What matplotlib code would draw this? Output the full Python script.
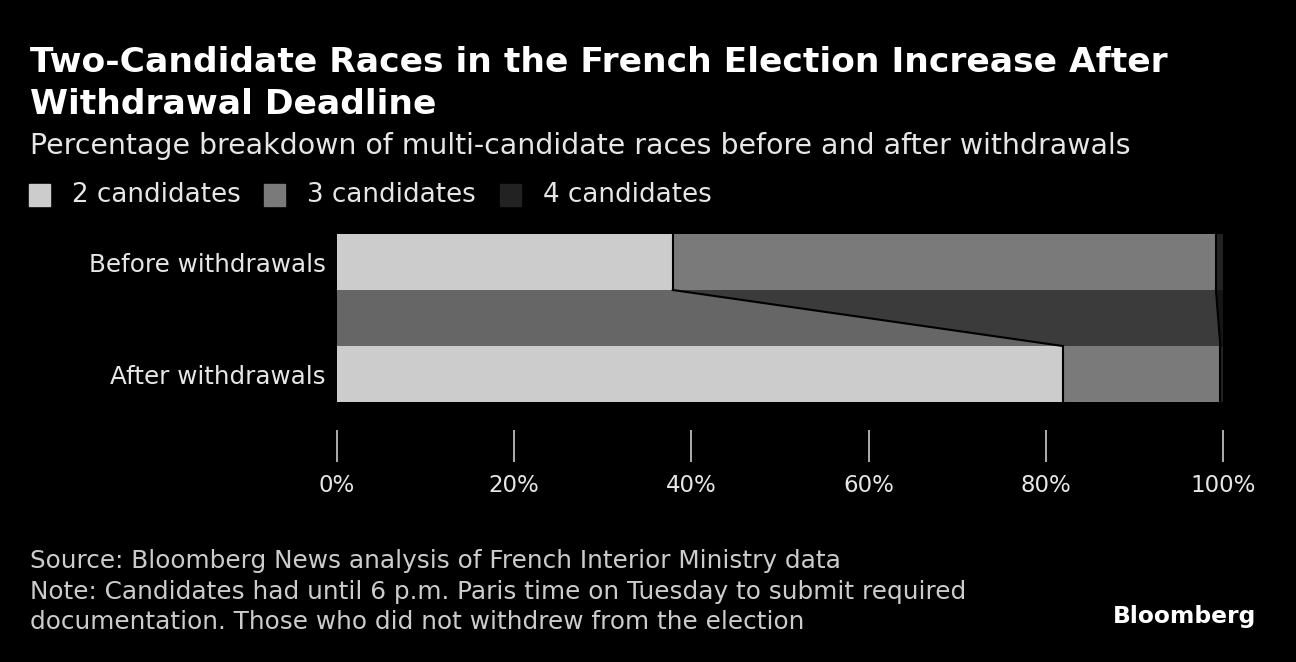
import matplotlib
matplotlib.use("Agg")
import matplotlib.pyplot as plt
import numpy as np

# share of multi-candidate races (%)
categories = ["Before withdrawals", "After withdrawals"]
two_cand = [37.9, 81.9]
three_cand = [61.3, 17.8]
four_cand = [0.8, 0.3]
series_labels = ["2 candidates", "3 candidates", "4 candidates"]
tick_vals = [0, 20, 40, 60, 80, 100]

BG = "#000000"
COLORS = ["#cccccc", "#7a7a7a", "#222222"]
BAND_COLORS = ["#666666", "#3b3b3b", "#151515"]
TXT = "#e6e6e6"

W, H = 1296, 662
fig = plt.figure(figsize=(W / 100, H / 100), dpi=100, facecolor=BG)

# axes spans the two bars and the band between them
ax = fig.add_axes([337 / W, 1 - 402 / H, 886 / W, 168 / H], facecolor=BG)
ax.set_xlim(0, 100)
ax.set_ylim(0, 3)

ypos = [2.5, 0.5]
left = np.zeros(2)
for vals, col in zip([two_cand, three_cand, four_cand], COLORS):
    ax.barh(ypos, vals, left=left, height=1.0, color=col, linewidth=0)
    left = left + np.array(vals)

# connector band showing the shift between the two bars
b_cum = np.cumsum([0, two_cand[0], three_cand[0], four_cand[0]])
a_cum = np.cumsum([0, two_cand[1], three_cand[1], four_cand[1]])
for i, col in enumerate(BAND_COLORS):
    xs = [b_cum[i], b_cum[i + 1], a_cum[i + 1], a_cum[i]]
    ys = [2, 2, 1, 1]
    ax.fill(xs, ys, color=col, linewidth=0)
for i in (1, 2):
    ax.plot([b_cum[i], a_cum[i]], [2, 1], color="black", linewidth=1.5)
    ax.plot([b_cum[i], b_cum[i]], [2, 3], color="black", linewidth=1.5)
    ax.plot([a_cum[i], a_cum[i]], [0, 1], color="black", linewidth=1.5)

for s in ax.spines.values():
    s.set_visible(False)
ax.spines["bottom"].set_position(("outward", 28 * 0.72))
ax.set_yticks(ypos)
ax.set_yticklabels(categories, fontsize=17.7, color=TXT)
ax.tick_params(axis="y", length=0, pad=8)
ax.set_xticks(tick_vals)
ax.set_xticklabels([f"{v}%" for v in tick_vals], fontsize=16.5, color=TXT)
ax.tick_params(axis="x", direction="out", length=23, width=1.2,
               color="#cccccc", pad=9)

# titles
fig.text(30 / W, 1 - 62 / H, "Two-Candidate Races in the French Election Increase After",
         fontsize=24.8, fontweight="bold", color="white", va="center", ha="left")
fig.text(30 / W, 1 - 104 / H, "Withdrawal Deadline",
         fontsize=24.8, fontweight="bold", color="white", va="center", ha="left")
fig.text(30 / W, 1 - 146 / H,
         "Percentage breakdown of multi-candidate races before and after withdrawals",
         fontsize=20.4, color=TXT, va="center", ha="left")

# legend
leg_x = [29, 264, 500]
for x, lab, col in zip(leg_x, series_labels, COLORS):
    fig.patches.append(plt.Rectangle((x / W, 1 - 206 / H), 21 / W, 22 / H,
                                     transform=fig.transFigure, color=col))
    fig.text((x + 43) / W, 1 - 195 / H, lab, fontsize=18.8, color=TXT,
             va="center", ha="left")

# footer
fig.text(30 / W, 1 - 561 / H,
         "Source: Bloomberg News analysis of French Interior Ministry data",
         fontsize=17.8, color="#cccccc", va="center", ha="left")
fig.text(30 / W, 1 - 592 / H,
         "Note: Candidates had until 6 p.m. Paris time on Tuesday to submit required",
         fontsize=17.8, color="#cccccc", va="center", ha="left")
fig.text(30 / W, 1 - 622 / H,
         "documentation. Those who did not withdrew from the election",
         fontsize=17.8, color="#cccccc", va="center", ha="left")
fig.text(1256 / W, 1 - 617 / H, "Bloomberg", fontsize=16.8, fontweight="bold",
         color="white", va="center", ha="right")

fig.savefig("out.png", dpi=100, facecolor=BG)
